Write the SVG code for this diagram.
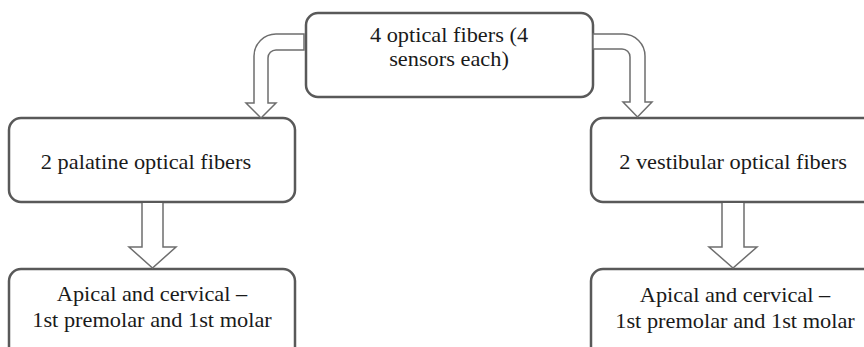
<svg xmlns="http://www.w3.org/2000/svg" width="864" height="347" viewBox="0 0 864 347">
<style>
.box{fill:#fff;stroke:#595959;stroke-width:2.5}
.arr{fill:#fff;stroke:#6e6e6e;stroke-width:1.5;stroke-linejoin:miter}
</style>
<rect width="864" height="347" fill="#fff"/>
<g font-family="Liberation Serif" font-size="20.5" fill="#1a1a1a" text-anchor="middle">
<g id="top">
<rect class="box" x="306" y="13" width="287" height="84" rx="12"/>
<text transform="translate(449,42) scale(1.09,1)"><tspan x="0">4 optical fibers (4</tspan><tspan x="0" dy="24">sensors each)</tspan></text>
</g>
<g id="palatine">
<rect class="box" x="9" y="118" width="286" height="84" rx="12"/>
<text transform="translate(146,169) scale(1.09,1)">2 palatine optical fibers</text>
</g>
<g id="vestibular">
<rect class="box" x="591" y="118" width="290" height="84" rx="12"/>
<text transform="translate(733,169) scale(1.09,1)">2 vestibular optical fibers</text>
</g>
<g id="palatine-sites">
<rect class="box" x="9" y="269" width="286" height="92" rx="12"/>
<text transform="translate(152,301) scale(1.09,1)"><tspan x="0">Apical and cervical –</tspan><tspan x="0" dy="26">1st premolar and 1st molar</tspan></text>
</g>
<g id="vestibular-sites">
<rect class="box" x="591" y="269" width="290" height="92" rx="12"/>
<text transform="translate(735,302) scale(1.09,1)"><tspan x="0">Apical and cervical –</tspan><tspan x="0" dy="26">1st premolar and 1st molar</tspan></text>
</g>
</g>
<g id="connectors">
<path class="arr" d="M304,34 L276,34 A22,22 0 0 0 254,56 L254,103 L246,103 L261,118 L276,103 L268,103 L268,58 A8,8 0 0 1 276,50 L304,50 Z"/>
<path class="arr" d="M593,34 L623,34 A22,22 0 0 1 645,56 L645,102 L652,102 L637.5,117 L623,102 L630,102 L630,57 A8,8 0 0 0 622,49 L593,49 Z"/>
<path class="arr" d="M142,203 L142,247 L129,247 L152.5,268 L176,247 L163,247 L163,203"/>
<path class="arr" d="M722,203 L722,247 L709,247 L733,268 L757,247 L744,247 L744,203"/>
</g>
</svg>
